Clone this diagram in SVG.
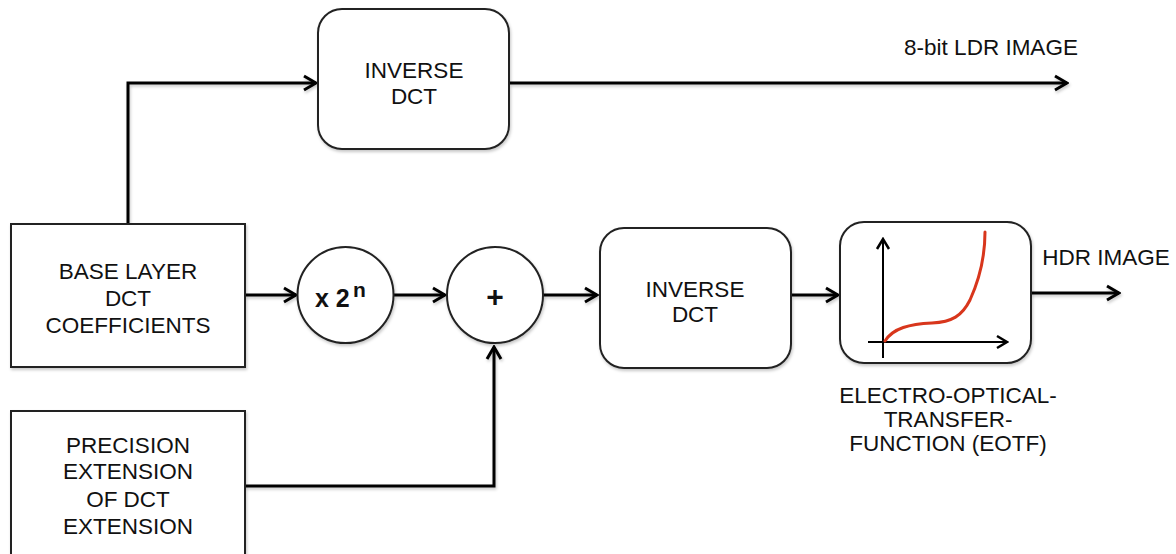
<svg xmlns="http://www.w3.org/2000/svg" width="1176" height="554" viewBox="0 0 1176 554">
  <style>
    .lbl { font-family: "Liberation Sans", Arial, Helvetica, sans-serif; font-size: 22.5px; fill: #111; text-anchor: middle; }
    .op { font-family: "Liberation Sans", Arial, Helvetica, sans-serif; font-weight: bold; fill: #111; }
    .box { fill: #fff; stroke: #222; stroke-width: 2; }
    .wire { fill: none; stroke: #000; stroke-width: 3; }
    .axis { fill: none; stroke: #000; stroke-width: 2; }
    .curve { fill: none; stroke: #d8361c; stroke-width: 3; stroke-linecap: round; }
  </style>
  <defs>
    <filter id="shadow" x="-10%" y="-10%" width="130%" height="140%">
      <feDropShadow dx="1" dy="2" stdDeviation="1.5" flood-color="#000" flood-opacity="0.22"/>
    </filter>
    <marker id="chev" markerUnits="userSpaceOnUse" viewBox="-16 -10 18 20" refX="0" refY="0" markerWidth="18" markerHeight="20" orient="auto">
      <path d="M-12,-7 L0,0 L-12,7" fill="none" stroke="#000" stroke-width="3"/>
    </marker>
    <marker id="chevSmall" markerUnits="userSpaceOnUse" viewBox="-14 -9 16 18" refX="0" refY="0" markerWidth="16" markerHeight="18" orient="auto">
      <path d="M-10,-6 L0,0 L-10,6" fill="none" stroke="#000" stroke-width="2.5"/>
    </marker>
  </defs>

  <rect width="1176" height="554" fill="#fff"/>

  <!-- connectors -->
  <g id="connectors" filter="url(#shadow)">
    <path class="wire" d="M128,223 V83 H316" marker-end="url(#chev)"/>
    <path class="wire" d="M510,83 H1067" marker-end="url(#chev)"/>
    <path class="wire" d="M245,295 H296" marker-end="url(#chev)"/>
    <path class="wire" d="M394,295 H445" marker-end="url(#chev)"/>
    <path class="wire" d="M543,295 H597" marker-end="url(#chev)"/>
    <path class="wire" d="M245,486 H494 V347" marker-end="url(#chev)"/>
    <path class="wire" d="M792,295 H838" marker-end="url(#chev)"/>
    <path class="wire" d="M1031,293 H1119" marker-end="url(#chev)"/>
  </g>

  <!-- upper inverse transform -->
  <g id="inverse-dct-ldr">
    <rect class="box" x="318" y="9" width="191" height="140" rx="24" filter="url(#shadow)"/>
    <text class="lbl" x="414" y="78">INVERSE</text>
    <text class="lbl" x="414" y="104">DCT</text>
  </g>

  <g id="ldr-output">
    <text class="lbl" x="991" y="55">8-bit LDR IMAGE</text>
  </g>

  <!-- base layer coefficients -->
  <g id="base-layer">
    <rect class="box" x="11" y="224" width="234" height="143" filter="url(#shadow)"/>
    <text class="lbl" x="128" y="279">BASE LAYER</text>
    <text class="lbl" x="128" y="306">DCT</text>
    <text class="lbl" x="128" y="333">COEFFICIENTS</text>
  </g>

  <!-- precision extension -->
  <g id="precision-extension">
    <rect class="box" x="11" y="411" width="234" height="150" filter="url(#shadow)"/>
    <text class="lbl" x="128" y="453">PRECISION</text>
    <text class="lbl" x="128" y="479">EXTENSION</text>
    <text class="lbl" x="128" y="507">OF DCT</text>
    <text class="lbl" x="128" y="534">EXTENSION</text>
  </g>

  <!-- scaling by 2^n -->
  <g id="scale">
    <circle class="box" cx="345.5" cy="295" r="48" filter="url(#shadow)"/>
    <text class="op" x="315" y="307" style="font-size:25px">x 2</text>
    <text class="op" x="353" y="297" style="font-size:21px">n</text>
  </g>

  <!-- summation -->
  <g id="sum">
    <circle class="box" cx="495" cy="295" r="48" filter="url(#shadow)"/>
    <text class="op" x="495" y="307" text-anchor="middle" style="font-size:30px">+</text>
  </g>

  <!-- lower inverse transform -->
  <g id="inverse-dct-hdr">
    <rect class="box" x="600" y="228" width="191" height="140" rx="24" filter="url(#shadow)"/>
    <text class="lbl" x="695" y="297">INVERSE</text>
    <text class="lbl" x="695" y="322">DCT</text>
  </g>

  <!-- transfer function -->
  <g id="eotf">
    <rect class="box" x="840" y="222" width="191" height="141" rx="24" filter="url(#shadow)"/>
    <path class="axis" d="M883,358 V239" marker-end="url(#chevSmall)"/>
    <path class="axis" d="M868,342 H1007" marker-end="url(#chevSmall)"/>
    <path class="curve" d="M885,341 C893,328 910,324 932,323 C952,322 962,316 970,300 C980,278 985,258 985,232"/>
    <text class="lbl" x="948" y="403">ELECTRO-OPTICAL-</text>
    <text class="lbl" x="948" y="427">TRANSFER-</text>
    <text class="lbl" x="948" y="451">FUNCTION (EOTF)</text>
  </g>

  <g id="hdr-output">
    <text class="lbl" x="1106" y="265">HDR IMAGE</text>
  </g>
</svg>
